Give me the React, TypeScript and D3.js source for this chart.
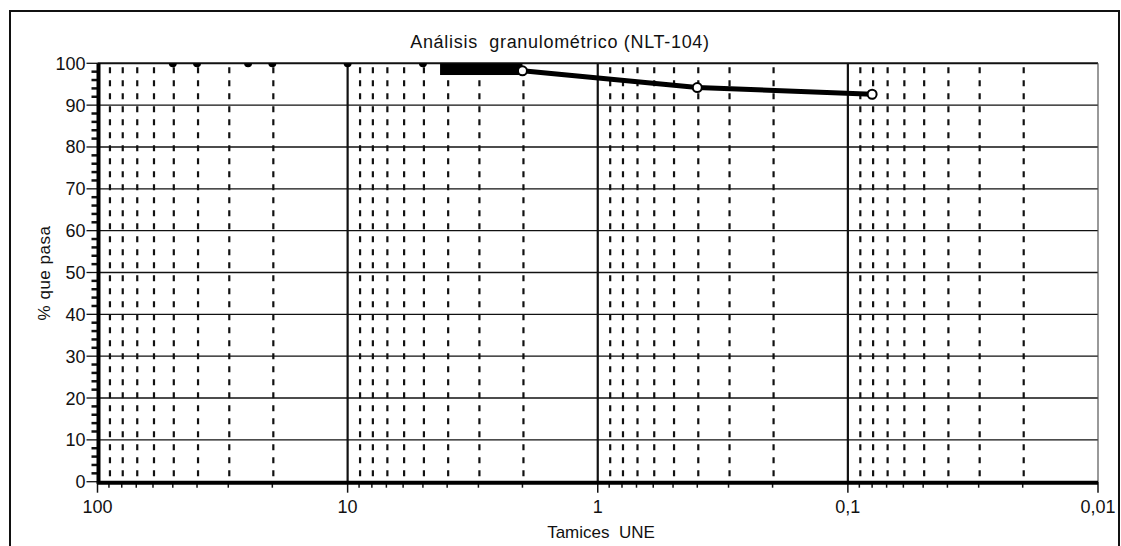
import React, { useRef, useEffect } from "react";
import * as d3 from "d3";

// sieve sizes (mm) and % passing
const sieves = [50, 40, 25, 20, 10, 5, 2, 0.4, 0.08];
const passing = [100, 100, 100, 100, 100, 100, 98.2, 94.2, 92.6];
// filled block drawn near the top (mm range / % range)
const blockX = [4.27, 2.0];
const blockY = [97.2, 100];

const xDomain = [100, 0.01];
const xMajors = [100, 10, 1, 0.1, 0.01];
const xTickLabels = ["100", "10", "1", "0,1", "0,01"];
const yTicks = [0, 10, 20, 30, 40, 50, 60, 70, 80, 90, 100];
const decades = [100, 10, 1, 0.1];
const minorMult = [0.9, 0.8, 0.7, 0.6, 0.5, 0.4, 0.3, 0.2];

const title = "Análisis  granulométrico (NLT-104)";
const xTitle = "Tamices  UNE";
const yTitle = "% que pasa";

const App = () => {
  const ref = useRef<SVGSVGElement>(null);

  useEffect(() => {
    if (!ref.current) return;
    const svg = d3.select(ref.current);
    svg.selectAll("*").remove();

    const W = 1121;
    const H = 546;
    const font = "'Liberation Sans', Arial, sans-serif";

    const x = d3.scaleLog().domain(xDomain).range([97.5, 1098]);
    const y = d3.scaleLinear().domain([0, 100]).range([481.7, 63.3]);
    const [x0, x1] = x.range();
    const [yb, yt] = y.range();

    svg.append("rect").attr("width", W).attr("height", H).attr("fill", "white");

    // outer frame
    svg
      .append("rect")
      .attr("x", 10)
      .attr("y", 11)
      .attr("width", 1109)
      .attr("height", 545)
      .attr("fill", "none")
      .attr("stroke", "#111")
      .attr("stroke-width", 2);

    svg.append("defs")
      .append("clipPath")
      .attr("id", "plotclip")
      .append("rect")
      .attr("x", x0)
      .attr("y", yt)
      .attr("width", x1 - x0)
      .attr("height", yb - yt);

    const g = svg.append("g");

    // minor dashed verticals
    const minors: number[] = [];
    decades.forEach((d) => minorMult.forEach((m) => minors.push(d * m)));
    g.selectAll(".vminor")
      .data(minors)
      .join("line")
      .attr("x1", (d) => x(d) + 1)
      .attr("x2", (d) => x(d) + 1)
      .attr("y1", yt + 4)
      .attr("y2", yb)
      .attr("stroke", "#111")
      .attr("stroke-width", 2.2)
      .attr("stroke-dasharray", "6,7");

    // horizontal grid
    g.selectAll(".hgrid")
      .data(yTicks.filter((d) => d > 0))
      .join("line")
      .attr("x1", x0)
      .attr("x2", x1)
      .attr("y1", (d) => y(d))
      .attr("y2", (d) => y(d))
      .attr("stroke", "#111")
      .attr("stroke-width", (d) => (d === 100 ? 2 : 1.3));

    // major verticals
    g.selectAll(".vmajor")
      .data([10, 1, 0.1])
      .join("line")
      .attr("x1", (d) => x(d))
      .attr("x2", (d) => x(d))
      .attr("y1", yt)
      .attr("y2", yb)
      .attr("stroke", "#111")
      .attr("stroke-width", 2.2);

    // right border
    g.append("line")
      .attr("x1", x1)
      .attr("x2", x1)
      .attr("y1", yt)
      .attr("y2", yb)
      .attr("stroke", "#555")
      .attr("stroke-width", 1.2);

    // data
    const data = sieves.map((s, i) => ({ s, p: passing[i] }));
    const plot = g.append("g").attr("clip-path", "url(#plotclip)");

    plot
      .append("rect")
      .attr("x", x(blockX[0]))
      .attr("y", y(blockY[1]))
      .attr("width", x(blockX[1]) - x(blockX[0]))
      .attr("height", y(blockY[0]) - y(blockY[1]))
      .attr("fill", "#000");

    const lineData = data.filter((d) => d.p < 100);
    plot
      .append("path")
      .datum(lineData)
      .attr("fill", "none")
      .attr("stroke", "#000")
      .attr("stroke-width", 5)
      .attr(
        "d",
        d3
          .line<{ s: number; p: number }>()
          .x((d) => x(d.s))
          .y((d) => y(d.p))
      );

    plot
      .selectAll(".top")
      .data(data.filter((d) => d.p >= 100))
      .join("circle")
      .attr("cx", (d) => x(d.s))
      .attr("cy", (d) => y(d.p))
      .attr("r", 4)
      .attr("fill", "#000");

    g.selectAll(".pt")
      .data(lineData)
      .join("circle")
      .attr("cx", (d) => x(d.s))
      .attr("cy", (d) => y(d.p))
      .attr("r", 4.5)
      .attr("fill", "white")
      .attr("stroke", "#000")
      .attr("stroke-width", 2);

    // y axis
    const yMinor = d3.range(0, 101, 2);
    g.selectAll(".ytick")
      .data(yMinor)
      .join("line")
      .attr("x1", (d) => (d % 10 === 0 ? x0 - 11 : x0 - 6))
      .attr("x2", x0)
      .attr("y1", (d) => y(d))
      .attr("y2", (d) => y(d))
      .attr("stroke", "#111")
      .attr("stroke-width", (d) => (d % 10 === 0 ? 1.3 : 2.5));
    g.append("line")
      .attr("x1", x0 + 1)
      .attr("x2", x0 + 1)
      .attr("y1", yt)
      .attr("y2", yb + 2)
      .attr("stroke", "#000")
      .attr("stroke-width", 4);
    g.selectAll(".ylab")
      .data(yTicks)
      .join("text")
      .attr("x", x0 - 12)
      .attr("y", (d) => y(d) + 6.5)
      .attr("text-anchor", "end")
      .attr("font-family", font)
      .attr("font-size", 18)
      .attr("fill", "#111")
      .text((d) => String(d));

    // x axis
    g.selectAll(".xminor")
      .data(minors)
      .join("line")
      .attr("x1", (d) => x(d))
      .attr("x2", (d) => x(d))
      .attr("y1", yb)
      .attr("y2", yb + 6)
      .attr("stroke", "#111")
      .attr("stroke-width", 1.5);
    g.selectAll(".xmajor")
      .data(xMajors)
      .join("line")
      .attr("x1", (d) => x(d))
      .attr("x2", (d) => x(d))
      .attr("y1", yb)
      .attr("y2", yb + 11)
      .attr("stroke", "#111")
      .attr("stroke-width", 1.5);
    g.append("line")
      .attr("x1", x0)
      .attr("x2", x1)
      .attr("y1", yb + 1)
      .attr("y2", yb + 1)
      .attr("stroke", "#000")
      .attr("stroke-width", 4);
    g.selectAll(".xlab")
      .data(xMajors)
      .join("text")
      .attr("x", (d) => x(d))
      .attr("y", yb + 31)
      .attr("text-anchor", "middle")
      .attr("font-family", font)
      .attr("font-size", 18)
      .attr("fill", "#111")
      .text((d, i) => xTickLabels[i]);

    // titles
    svg
      .append("text")
      .attr("x", 560)
      .attr("y", 48)
      .attr("text-anchor", "middle")
      .attr("font-family", font)
      .attr("font-size", 18)
      .attr("letter-spacing", 0.7)
      .attr("fill", "#111")
      .style("white-space", "pre")
      .text(title);
    svg
      .append("text")
      .attr("x", 601)
      .attr("y", 538)
      .attr("text-anchor", "middle")
      .attr("font-family", font)
      .attr("font-size", 17)
      .attr("fill", "#111")
      .style("white-space", "pre")
      .text(xTitle);
    svg
      .append("text")
      .attr("transform", "translate(50,273) rotate(-90)")
      .attr("text-anchor", "middle")
      .attr("font-family", font)
      .attr("font-size", 17)
      .attr("letter-spacing", 0.5)
      .attr("fill", "#111")
      .text(yTitle);
  }, []);

  return (
    <svg
      ref={ref}
      width={1121}
      height={546}
      style={{ position: "absolute", left: 0, top: 0, display: "block" }}
    />
  );
};

export default App;
